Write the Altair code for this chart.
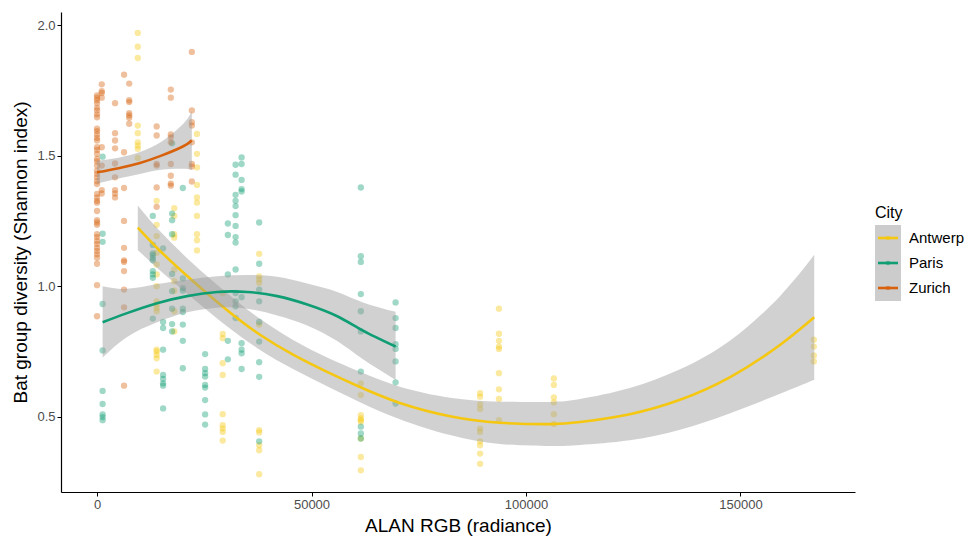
import altair as alt
import pandas as pd

CITIES = ["Antwerp", "Paris", "Zurich"]
COLORS = ["#F5C710", "#0F9E74", "#D8620C"]

# observed points: x (ALAN radiance) -> list of Shannon index values
antwerp_pts = {
    9500: [1.970, 1.917, 1.874, 1.615, 1.586, 1.551, 1.538, 1.526, 1.491],
    13900: [1.327, 1.235, 1.192, 1.128, 1.083, 1.045, 1.000, 0.942, 0.930, 0.917, 0.904, 0.757, 0.750, 0.737, 0.724, 0.673],
    18000: [1.299, 1.269, 1.199, 1.186, 1.064, 1.019, 0.983, 0.904, 0.827],
    23300: [1.583, 1.507, 1.455, 1.388, 1.340, 1.320, 1.269, 1.199, 1.176, 1.137],
    29300: [0.974, 0.817, 0.801, 0.705, 0.660, 0.510, 0.468, 0.455, 0.442, 0.409],
    37800: [1.124, 1.038, 1.026, 1.013, 0.853, 0.449, 0.440, 0.391, 0.372, 0.280],
    61500: [0.628, 0.583, 0.506, 0.494, 0.487, 0.481, 0.417, 0.346, 0.295],
    89300: [0.590, 0.577, 0.547, 0.530, 0.455, 0.442, 0.406, 0.391, 0.359, 0.320],
    93700: [0.914, 0.818, 0.791, 0.769, 0.760, 0.667, 0.605, 0.568, 0.487],
    106500: [0.647, 0.622, 0.574, 0.555, 0.510, 0.472],
    167100: [0.795, 0.769, 0.735, 0.712],
}
paris_pts = {
    1300: [1.496, 1.201, 1.170, 0.932, 0.754, 0.599, 0.549, 0.509, 0.499, 0.487],
    13000: [1.269, 1.158, 1.126, 1.107, 1.119, 1.099, 1.058, 1.045, 1.032, 0.876],
    15400: [1.145, 0.863, 0.840, 0.757, 0.660, 0.645, 0.628, 0.619, 0.532],
    17500: [1.547, 1.278, 1.253, 1.199, 1.047, 0.981, 0.914, 0.855, 0.827],
    20000: [1.376, 1.030, 0.993, 0.983, 0.914, 0.901, 0.853, 0.791, 0.686],
    25200: [0.740, 0.683, 0.667, 0.654, 0.622, 0.612, 0.564, 0.509, 0.470],
    30500: [1.240, 1.196, 1.045, 0.791, 0.720],
    32300: [1.465, 1.427, 1.350, 1.327, 1.307, 1.272, 1.231, 1.188, 1.167, 1.064, 0.974, 0.942, 0.923, 0.878],
    33700: [1.493, 1.468, 1.407, 1.372, 1.363, 0.958, 0.782, 0.757, 0.743, 0.683],
    37800: [1.244, 1.086, 0.987, 0.942, 0.863, 0.788, 0.709, 0.653, 0.406],
    61500: [1.378, 1.115, 1.093, 0.970, 0.904, 0.827, 0.673, 0.462, 0.436, 0.417],
    69600: [0.938, 0.878, 0.840, 0.778, 0.760, 0.712, 0.632, 0.551],
}
zurich_pts = {
    0: [1.731, 1.722, 1.712, 1.701, 1.683, 1.673, 1.658, 1.647, 1.603, 1.594, 1.581, 1.568, 1.558,
        1.532, 1.522, 1.507, 1.487, 1.478, 1.462, 1.442, 1.430, 1.417, 1.402, 1.391, 1.353, 1.340,
        1.327, 1.320, 1.288, 1.253, 1.244, 1.235, 1.199, 1.188, 1.173, 1.162, 1.147, 1.135, 1.122,
        1.109, 1.086, 1.004, 0.885],
    1100: [1.773, 1.747, 1.740, 1.722, 1.532, 1.462, 1.368, 1.355],
    4200: [1.701, 1.586, 1.558, 1.528, 1.470, 1.417, 1.368, 1.355, 1.340],
    6300: [1.810, 1.513, 1.376, 1.250, 1.147, 1.099, 1.093, 1.058, 0.987, 0.919, 0.619],
    7500: [1.776, 1.712, 1.705, 1.663, 1.654, 1.645, 1.622],
    13900: [1.612, 1.577, 1.468, 1.462, 1.378, 1.304],
    17200: [1.753, 1.722, 1.581, 1.570, 1.551, 1.468, 1.423, 1.393, 1.385],
    22100: [1.897, 1.673, 1.628, 1.615, 1.551, 1.468, 1.458, 1.401],
}

# fitted curves with confidence band
antwerp_fit_x = [9500, 14700, 22400, 30200, 38000, 45800, 53500, 61300, 70600, 82300,
                 93900, 105600, 112600, 124200, 135900, 147600, 159200, 167200]
antwerp_fit_y = [1.224, 1.135, 1.019, 0.910, 0.814, 0.737, 0.673, 0.614, 0.553, 0.502,
                 0.477, 0.472, 0.480, 0.510, 0.565, 0.652, 0.775, 0.881]
antwerp_lo = [1.139, 1.060, 0.952, 0.848, 0.756, 0.682, 0.618, 0.556, 0.491, 0.430,
              0.396, 0.388, 0.392, 0.410, 0.450, 0.514, 0.588, 0.642]
antwerp_hi = [1.309, 1.210, 1.086, 0.975, 0.875, 0.793, 0.728, 0.672, 0.615, 0.573,
              0.558, 0.557, 0.568, 0.610, 0.682, 0.792, 0.962, 1.120]

paris_fit_x = [1300, 7000, 14000, 21000, 28000, 35000, 42000, 49000, 56000, 62000, 69600]
paris_fit_y = [0.862, 0.897, 0.935, 0.962, 0.978, 0.978, 0.962, 0.930, 0.885, 0.830, 0.769]
paris_lo = [0.727, 0.806, 0.862, 0.900, 0.918, 0.914, 0.888, 0.850, 0.790, 0.720, 0.641]
paris_hi = [1.000, 0.990, 1.008, 1.025, 1.038, 1.043, 1.036, 1.010, 0.978, 0.938, 0.902]

zurich_fit_x = [0, 5000, 10000, 15000, 20000, 22100]
zurich_fit_y = [1.436, 1.452, 1.472, 1.500, 1.535, 1.558]
zurich_lo = [1.393, 1.412, 1.430, 1.446, 1.450, 1.445]
zurich_hi = [1.480, 1.492, 1.514, 1.553, 1.620, 1.670]

X_TICKS = [0, 50000, 100000, 150000]
Y_TICKS = [0.5, 1.0, 1.5, 2.0]

FONT = "Liberation Sans"

rows = []
for city, pts in zip(CITIES, [antwerp_pts, paris_pts, zurich_pts]):
    for xv, ys in pts.items():
        for yv in ys:
            rows.append({"City": city, "ALAN": xv, "H": yv})
points_df = pd.DataFrame(rows)

fits = {
    "Antwerp": (antwerp_fit_x, antwerp_fit_y, antwerp_lo, antwerp_hi),
    "Paris": (paris_fit_x, paris_fit_y, paris_lo, paris_hi),
    "Zurich": (zurich_fit_x, zurich_fit_y, zurich_lo, zurich_hi),
}

xscale = alt.Scale(domain=[-8400, 176700], nice=False, zero=False)
yscale = alt.Scale(domain=[0.212, 2.05], nice=False, zero=False)
cscale = alt.Scale(domain=CITIES, range=COLORS)

xaxis = alt.Axis(title="ALAN RGB (radiance)", values=X_TICKS, format="d", titlePadding=5)
yaxis = alt.Axis(title="Bat group diversity (Shannon index)", values=Y_TICKS, format=".1f", titlePadding=6)

pts = alt.Chart(points_df).mark_circle(size=40, opacity=0.4).encode(
    x=alt.X("ALAN:Q", scale=xscale, axis=xaxis),
    y=alt.Y("H:Q", scale=yscale, axis=yaxis),
    color=alt.Color("City:N", scale=cscale, legend=None),
)

layers = [pts]
for city, col in zip(CITIES, COLORS):
    fx, fy, lo, hi = fits[city]
    fdf = pd.DataFrame({"ALAN": fx, "fit": fy, "lo": lo, "hi": hi})
    band = alt.Chart(fdf).mark_area(color="#999999", opacity=0.45, interpolate="natural").encode(
        x=alt.X("ALAN:Q", scale=xscale),
        y=alt.Y("lo:Q", scale=yscale),
        y2="hi:Q",
    )
    line = alt.Chart(fdf).mark_line(color=col, strokeWidth=2.6, interpolate="natural").encode(
        x=alt.X("ALAN:Q", scale=xscale),
        y=alt.Y("fit:Q", scale=yscale),
    )
    layers += [band, line]

# manual legend (plot-area pixel coordinates)
one = alt.Data(values=[{"k": 0}])
leg_title = alt.Chart(one).mark_text(text="City", align="left", baseline="middle",
                                     fontSize=16, font=FONT, color="black").encode(
    x=alt.value(814), y=alt.value(201))
leg_box = alt.Chart(one).mark_rect(color="#CCCCCC").encode(
    x=alt.value(814), x2=alt.value(840), y=alt.value(213), y2=alt.value(289))
layers += [leg_title, leg_box]
for i, (city, col) in enumerate(zip(CITIES, COLORS)):
    yy = 226 + 25 * i
    layers.append(alt.Chart(one).mark_rule(color=col, strokeWidth=2.6).encode(
        x=alt.value(817), x2=alt.value(837), y=alt.value(yy)))
    layers.append(alt.Chart(one).mark_circle(color=col, size=22, opacity=0.6).encode(
        x=alt.value(827), y=alt.value(yy)))
    layers.append(alt.Chart(one).mark_text(text=city, align="left", baseline="middle",
                                           fontSize=15, font=FONT, color="black").encode(
        x=alt.value(848), y=alt.value(yy)))

chart = alt.layer(*layers).properties(
    width=794, height=480,
    autosize=alt.AutoSizeParams(type="none"),
    padding={"left": 53, "top": 4, "right": 110, "bottom": 45},
).configure_view(stroke=None).configure_axis(
    grid=False, domainColor="black", domainWidth=1.2, tickColor="black", tickSize=4,
    labelColor="#4D4D4D", labelFontSize=13, labelFont=FONT,
    titleFont=FONT, titleFontSize=19, titleFontWeight="normal", titleColor="black",
)

chart.save("out.html", embed_options={"renderer": "svg", "actions": False})
